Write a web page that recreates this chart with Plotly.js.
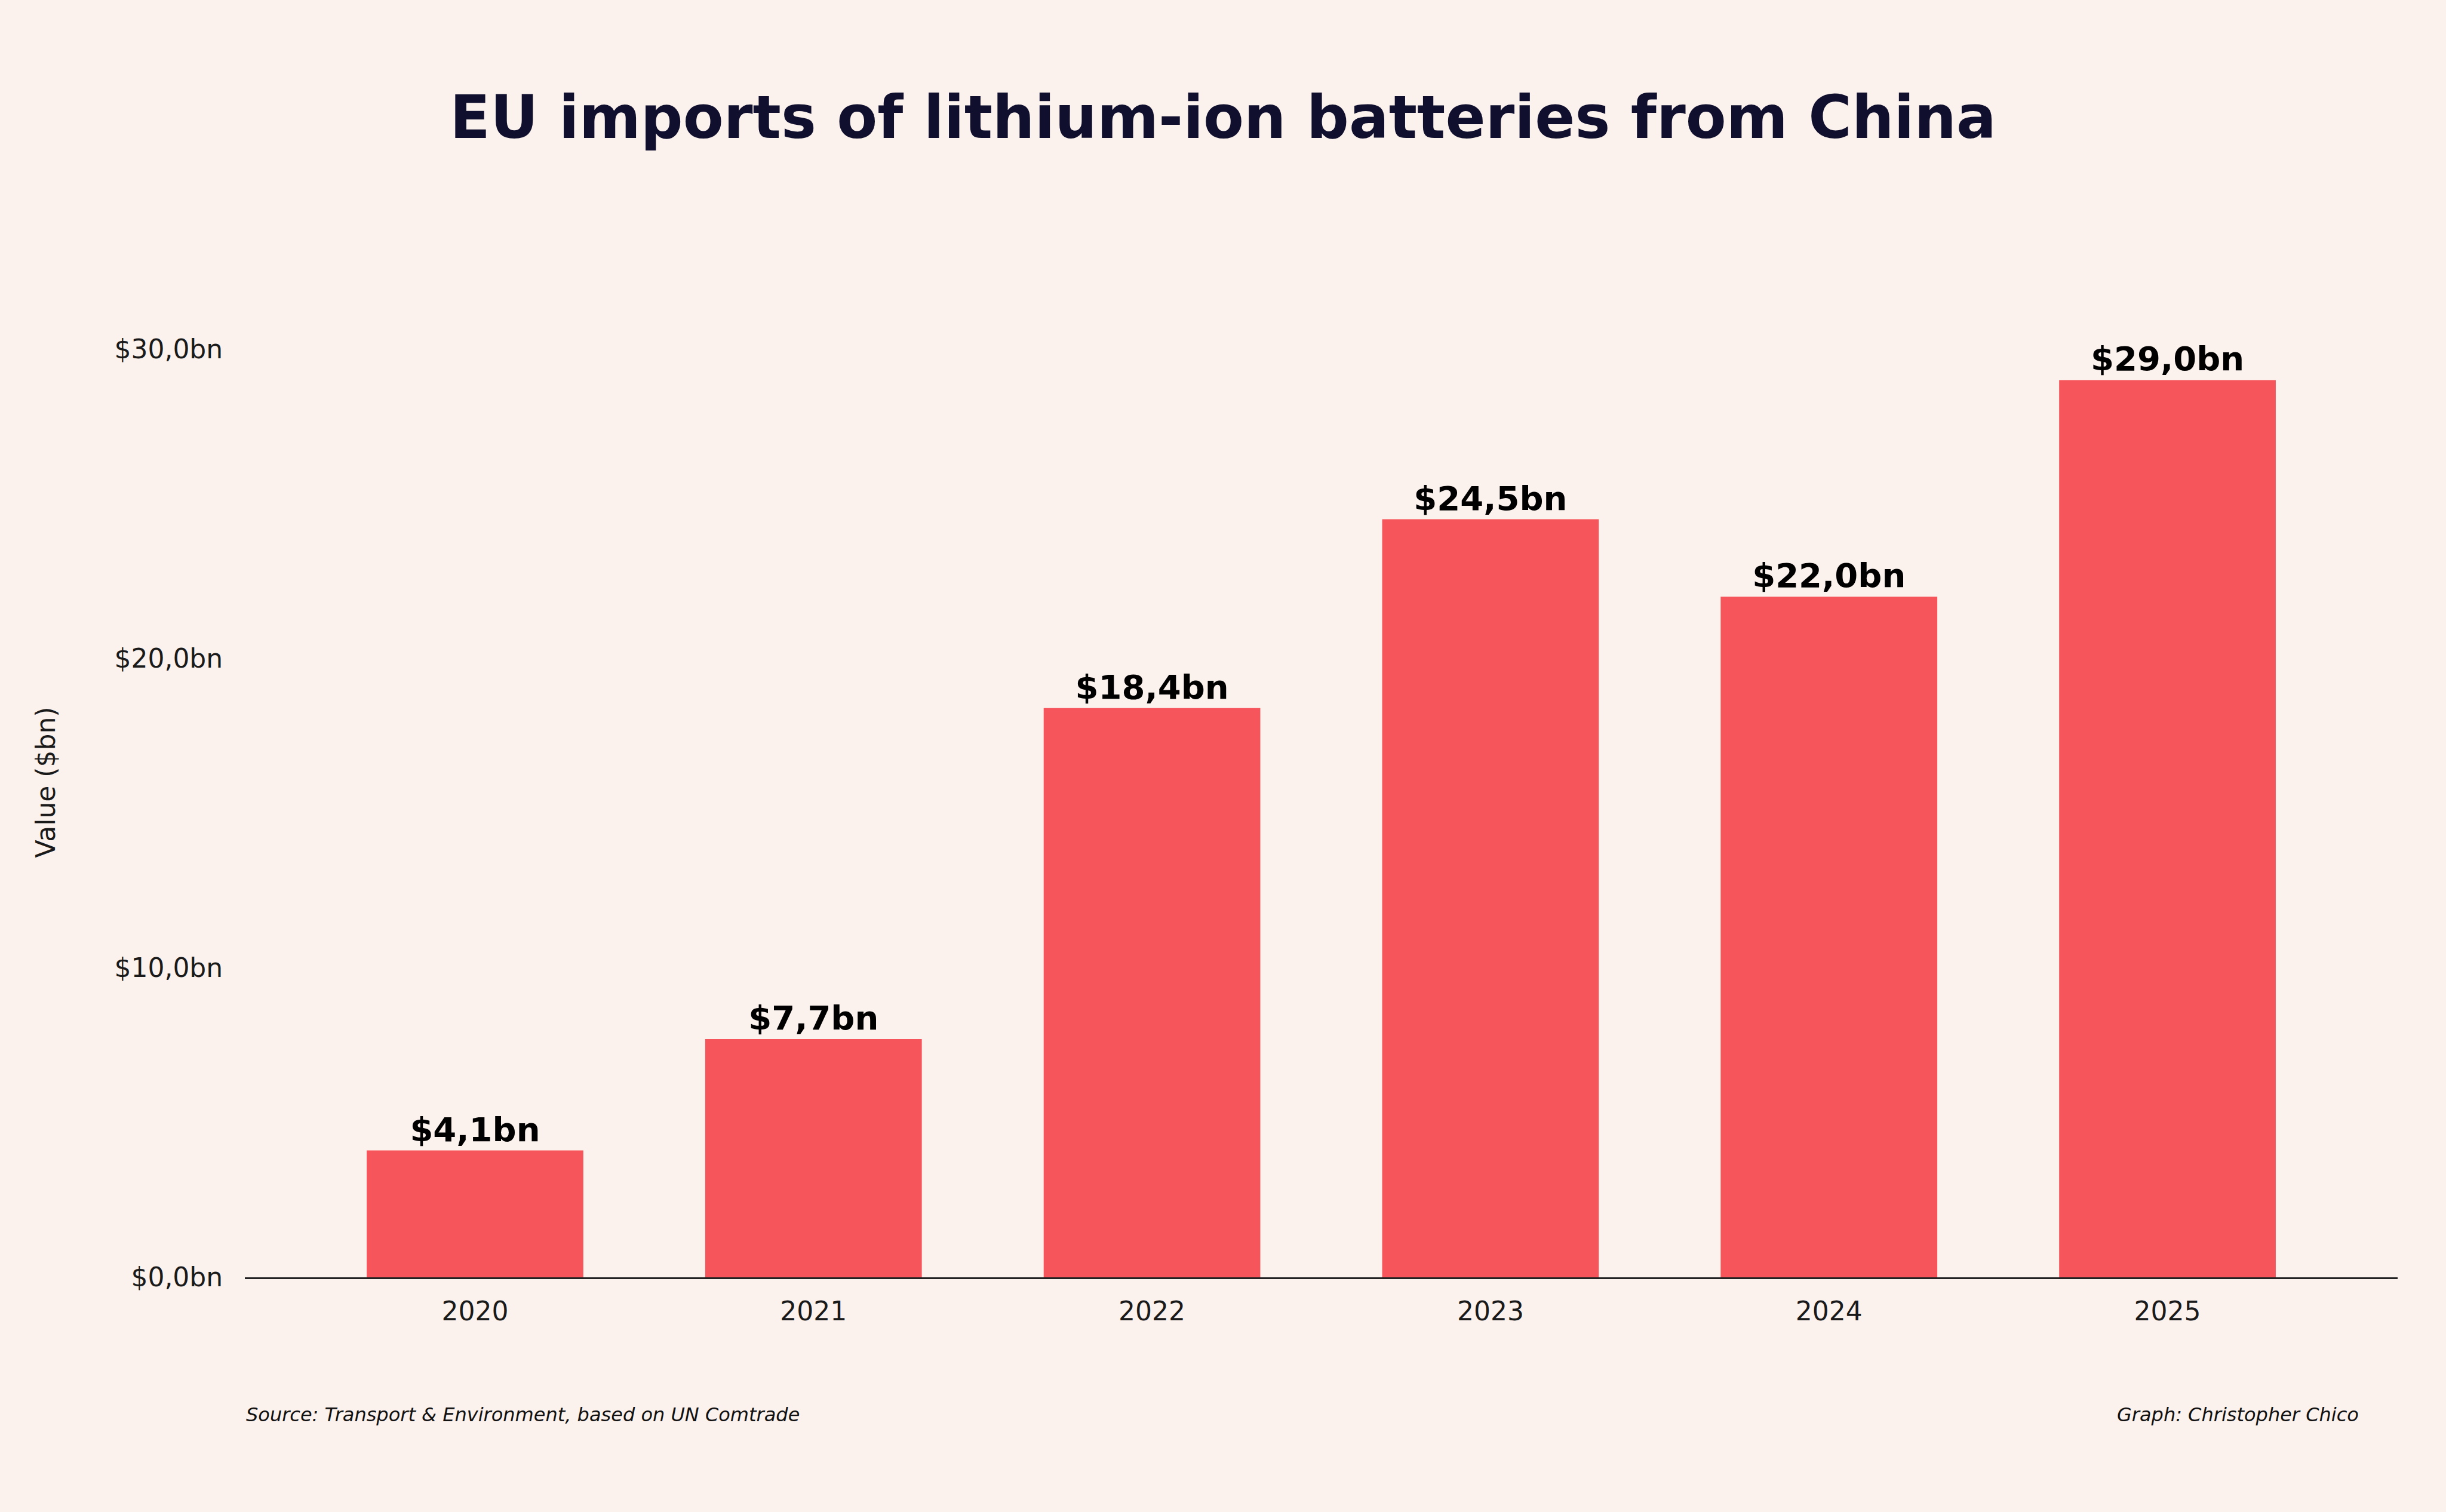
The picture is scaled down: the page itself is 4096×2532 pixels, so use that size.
<!DOCTYPE html>
<html>
<head>
<meta charset="utf-8">
<script src="https://cdn.plot.ly/plotly-3.0.1.min.js"></script>
<style>
  html, body { margin: 0; padding: 0; background: #fcf2ed; }
  #chart { width: 4096px; height: 2532px; }
</style>
</head>
<body>
<div id="chart"></div>
<script>
// data
var years = ['2020', '2021', '2022', '2023', '2024', '2025'];
var importsBn = [4.1, 7.7, 18.4, 24.5, 22.0, 29.0];
var yTickVals = [0, 10, 20, 30];
var yTickText = ['$0,0bn', '$10,0bn', '$20,0bn', '$30,0bn'];

const fmt = v => '$' + v.toFixed(1).replace('.', ',') + 'bn';
const font = 'DejaVu Sans, Verdana, sans-serif';

var trace = {
    type: 'bar',
    x: years,
    y: importsBn,
    width: 0.64,
    marker: { color: '#f6555b', line: { width: 0 } },
    text: importsBn.map(fmt),
    textposition: 'outside',
    cliponaxis: false,
    textfont: { family: font, size: 56, color: '#000000', weight: 'bold' },
    hoverinfo: 'none'
};

var layout = {
    width: 4096,
    height: 2532,
    paper_bgcolor: '#fcf2ed',
    plot_bgcolor: '#fcf2ed',
    margin: { l: 410, r: 81, t: 481, b: 393 },
    showlegend: false,
    title: {
        text: '<b>EU imports of lithium-ion batteries from China</b>',
        font: { family: font, size: 99, color: '#10102e' },
        x: 0.5, xanchor: 'center',
        y: 1 - 196 / 2532, yanchor: 'middle', yref: 'container'
    },
    xaxis: {
        type: 'category',
        range: [-0.68, 5.68],
        showgrid: false,
        zeroline: false,
        showline: true,
        linecolor: '#222222',
        linewidth: 3,
        ticks: 'outside',
        ticklen: 16,
        tickcolor: 'rgba(0,0,0,0)',
        tickfont: { family: font, size: 44, color: '#1a1a1a' }
    },
    yaxis: {
        range: [0, 32],
        showgrid: false,
        zeroline: false,
        showline: false,
        tickvals: yTickVals,
        ticktext: yTickText,
        ticks: 'outside',
        ticklen: 27,
        tickcolor: 'rgba(0,0,0,0)',
        tickfont: { family: font, size: 44, color: '#1a1a1a' },
        title: {
            text: 'Value ($bn)',
            font: { family: font, size: 44, color: '#1a1a1a' },
            standoff: 85
        }
    },
    annotations: [
        {
            text: '<i>Source: Transport & Environment, based on UN Comtrade</i>',
            xref: 'paper', yref: 'paper',
            x: 0, y: -0.1387, xanchor: 'left', yanchor: 'middle',
            showarrow: false,
            font: { family: font, size: 32, color: '#111111' }
        },
        {
            text: '<i>Graph: Christopher Chico</i>',
            xref: 'paper', yref: 'paper',
            x: 0.9825, y: -0.1387, xanchor: 'right', yanchor: 'middle',
            showarrow: false,
            font: { family: font, size: 32, color: '#111111' }
        }
    ]
};

Plotly.newPlot('chart', [trace], layout, { staticPlot: true });
</script>
</body>
</html>
